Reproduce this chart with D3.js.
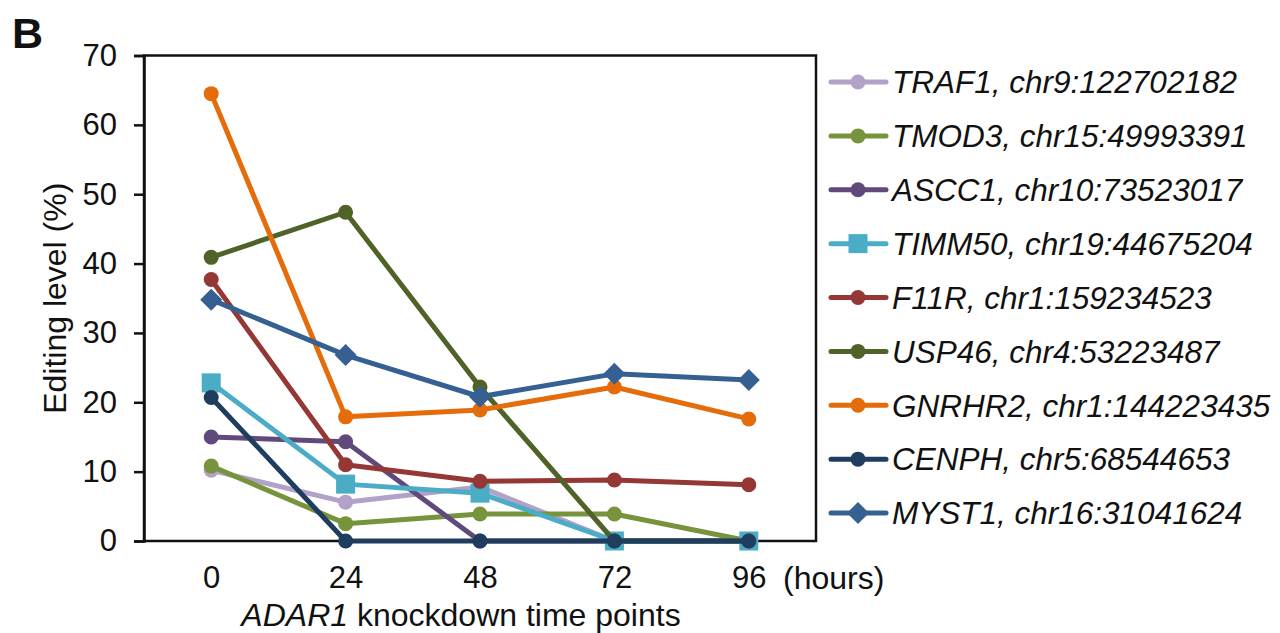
<!DOCTYPE html>
<html>
<head>
<meta charset="utf-8">
<script src="https://cdn.jsdelivr.net/npm/d3@7"></script>
<style>
  body { margin: 0; background: #fff; }
  text { font-family: "Liberation Sans", Arial, sans-serif; fill: #111; }
</style>
</head>
<body>
<div id="chart"></div>
<script>
const timePoints = ["0", "24", "48", "72", "96"];
const seriesNames = [
  "TRAF1, chr9:122702182",
  "TMOD3, chr15:49993391",
  "ASCC1, chr10:73523017",
  "TIMM50, chr19:44675204",
  "F11R, chr1:159234523",
  "USP46, chr4:53223487",
  "GNRHR2, chr1:144223435",
  "CENPH, chr5:68544653",
  "MYST1, chr16:31041624"
];
const traf1 = [10.2, 5.6, 7.8, 0, 0];
const tmod3 = [10.8, 2.5, 3.9, 3.9, 0];
const ascc1 = [15.0, 14.3, 0, 0, 0];
const timm50 = [22.8, 8.2, 6.9, 0, 0];
const f11r = [37.7, 11.0, 8.6, 8.8, 8.1];
const usp46 = [40.9, 47.4, 22.2, 0, 0];
const gnrhr2 = [64.5, 17.9, 18.9, 22.2, 17.6];
const cenph = [20.7, 0, 0, 0, 0];
const myst1 = [34.8, 26.8, 20.8, 24.1, 23.2];
const yTicks = [0, 10, 20, 30, 40, 50, 60, 70];

const colors = ["#b3a2c7", "#77933c", "#604a7b", "#4bacc6", "#953735", "#4f6228", "#e46c0a", "#1f3d5f", "#376092"];
const markers = ["circle", "circle", "circle", "square", "circle", "circle", "circle", "circle", "diamond"];
const allValues = [traf1, tmod3, ascc1, timm50, f11r, usp46, gnrhr2, cenph, myst1];

const series = seriesNames.map((name, i) => ({
  name: name,
  values: allValues[i],
  color: colors[i],
  marker: markers[i]
}));

const width = 1280;
const height = 633;
const plot = { left: 144, right: 816, top: 55.5, bottom: 541 };

const svg = d3.select("#chart").append("svg")
  .attr("width", width)
  .attr("height", height);

const x = d3.scalePoint()
  .domain(timePoints)
  .range([plot.left, plot.right])
  .padding(0.5);

const y = d3.scaleLinear()
  .domain([0, 70])
  .range([plot.bottom, plot.top]);

// frame round the plot
svg.append("rect")
  .attr("x", plot.left)
  .attr("y", plot.top)
  .attr("width", plot.right - plot.left)
  .attr("height", plot.bottom - plot.top)
  .attr("fill", "none")
  .attr("stroke", "#111")
  .attr("stroke-width", 2.5);

const yAxis = svg.append("g")
  .attr("transform", `translate(${plot.left},0)`)
  .call(d3.axisLeft(y).tickValues(yTicks).tickSize(10).tickPadding(17));
yAxis.select(".domain").attr("stroke", "#111").attr("stroke-width", 2.5);
yAxis.selectAll(".tick line").attr("stroke", "#111").attr("stroke-width", 2.5);
yAxis.selectAll(".tick text")
  .attr("font-size", 31)
  .attr("font-family", "Liberation Sans, Arial, sans-serif")
  .attr("fill", "#111");

const xAxis = svg.append("g")
  .attr("transform", `translate(0,${plot.bottom})`)
  .call(d3.axisBottom(x).tickSize(0).tickPadding(25));
xAxis.select(".domain").remove();
xAxis.selectAll(".tick text")
  .attr("font-size", 31)
  .attr("font-family", "Liberation Sans, Arial, sans-serif")
  .attr("fill", "#111");

svg.append("text")
  .attr("x", 783)
  .attr("y", 589)
  .attr("font-size", 32)
  .text("(hours)");

const xTitle = svg.append("text")
  .attr("x", 461)
  .attr("y", 626)
  .attr("text-anchor", "middle")
  .attr("font-size", 32);
xTitle.append("tspan").attr("font-style", "italic").text("ADAR1");
xTitle.append("tspan").text(" knockdown time points");

svg.append("text")
  .attr("transform", `translate(66,${(plot.top + plot.bottom) / 2}) rotate(-90)`)
  .attr("text-anchor", "middle")
  .attr("font-size", 32)
  .text("Editing level (%)");

svg.append("text")
  .attr("x", 12)
  .attr("y", 48)
  .attr("font-size", 43)
  .attr("font-weight", "bold")
  .text("B");

function drawMarker(sel, d, color) {
  if (d === "circle") {
    sel.append("circle").attr("r", 7.5).attr("fill", color);
  } else if (d === "square") {
    sel.append("rect").attr("x", -9.5).attr("y", -9.5).attr("width", 19).attr("height", 19).attr("fill", color);
  } else {
    sel.append("path").attr("d", "M0,-11L11,0L0,11L-11,0Z").attr("fill", color);
  }
}

const line = d3.line()
  .x((d, i) => x(timePoints[i]))
  .y(d => y(d));

const lines = svg.append("g");
series.forEach(s => {
  const g = lines.append("g");
  g.append("path")
    .attr("d", line(s.values))
    .attr("fill", "none")
    .attr("stroke", s.color)
    .attr("stroke-width", 5)
    .attr("stroke-linejoin", "round");
  s.values.forEach((v, i) => {
    const m = g.append("g").attr("transform", `translate(${x(timePoints[i])},${y(v)})`);
    drawMarker(m, s.marker, s.color);
  });
});

// legend
const legendY = d3.scalePoint()
  .domain(seriesNames)
  .range([82, 513]);

const legend = svg.append("g");
series.forEach(s => {
  const row = legend.append("g").attr("transform", `translate(0,${legendY(s.name)})`);
  row.append("line")
    .attr("x1", 831).attr("x2", 886)
    .attr("stroke", s.color)
    .attr("stroke-width", 5)
    .attr("stroke-linecap", "round");
  const m = row.append("g").attr("transform", "translate(858,0)");
  drawMarker(m, s.marker, s.color);
  row.append("text")
    .attr("x", 892)
    .attr("dy", "0.36em")
    .attr("font-size", 31.5)
    .attr("font-style", "italic")
    .text(s.name);
});
</script>
</body>
</html>
